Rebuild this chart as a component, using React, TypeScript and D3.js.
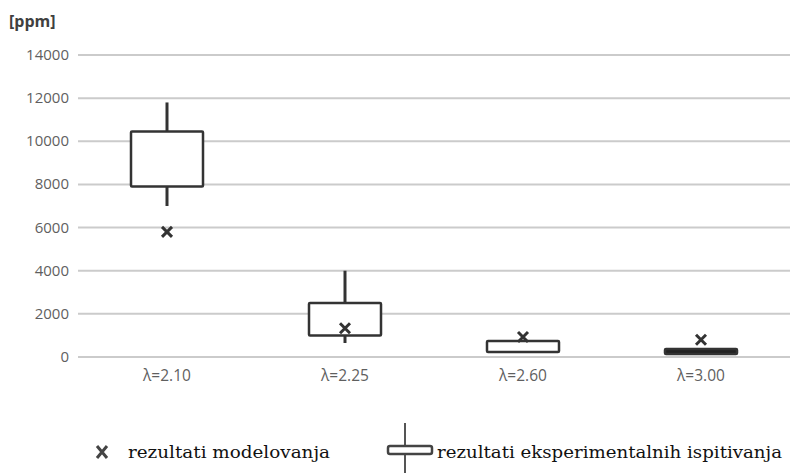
import React, { useEffect, useRef } from 'react'
import * as d3 from 'd3'

const categories = ['λ=2.10', 'λ=2.25', 'λ=2.60', 'λ=3.00']
const whiskerLow = [7000, 650, 200, 140]
const boxLow = [7900, 1000, 230, 140]
const boxHigh = [10450, 2500, 740, 370]
const whiskerHigh = [11800, 4000, 740, 370]
const modelValues = [5800, 1330, 930, 800]
const yTicks = [0, 2000, 4000, 6000, 8000, 10000, 12000, 14000]

export default function App() {
  const ref = useRef<SVGSVGElement | null>(null)

  useEffect(() => {
    const width = 790
    const svg = d3.select(ref.current!)
    svg.selectAll('*').remove()

    const x = d3.scaleBand<string>().domain(categories).range([78, 790])
    const y = d3.scaleLinear().domain([0, 14000]).range([357, 55])

    // grid
    svg.append('g').selectAll('line').data(yTicks).enter().append('line')
      .attr('x1', 78).attr('x2', width)
      .attr('y1', d => y(d)).attr('y2', d => y(d))
      .attr('stroke', '#cbcbcb').attr('stroke-width', 2)

    svg.append('g').selectAll('text').data(yTicks).enter().append('text')
      .attr('x', 69).attr('y', d => y(d) + 5)
      .attr('text-anchor', 'end')
      .attr('font-family', 'Open Sans, sans-serif').attr('font-size', 15)
      .attr('fill', '#5f5f5f')
      .text(d => String(d))

    svg.append('text').attr('x', 9).attr('y', 27)
      .attr('font-family', 'Open Sans, sans-serif').attr('font-size', 16).attr('font-weight', 700)
      .attr('fill', '#404040').text('[ppm]')

    svg.append('g').selectAll('text').data(categories).enter().append('text')
      .attr('x', d => (x(d) ?? 0) + x.bandwidth() / 2).attr('y', 381)
      .attr('text-anchor', 'middle')
      .attr('font-family', 'Open Sans, sans-serif').attr('font-size', 15.5)
      .attr('fill', '#5f5f5f')
      .text(d => d)

    const boxW = 72
    const g = svg.append('g')
    categories.forEach((c, i) => {
      const cx = (x(c) ?? 0) + x.bandwidth() / 2
      g.append('line').attr('x1', cx).attr('x2', cx)
        .attr('y1', y(whiskerHigh[i])).attr('y2', y(boxHigh[i]))
        .attr('stroke', '#333').attr('stroke-width', 3)
      g.append('line').attr('x1', cx).attr('x2', cx)
        .attr('y1', y(boxLow[i])).attr('y2', y(whiskerLow[i]))
        .attr('stroke', '#333').attr('stroke-width', 3)
      g.append('rect').attr('x', cx - boxW / 2).attr('width', boxW)
        .attr('y', y(boxHigh[i])).attr('height', Math.max(y(boxLow[i]) - y(boxHigh[i]), 0))
        .attr('fill', i === 3 ? '#222' : '#fff').attr('stroke', '#333').attr('stroke-width', 2.5)
        .attr('rx', 1)
      const my = y(modelValues[i])
      const s = 5
      g.append('path')
        .attr('d', `M${cx - s},${my - s}L${cx + s},${my + s}M${cx + s},${my - s}L${cx - s},${my + s}`)
        .attr('stroke', '#333').attr('stroke-width', 3)
    })

    // legend
    const leg = svg.append('g').attr('font-family', 'DejaVu Serif, serif').attr('font-size', 16).attr('fill', '#111')
    leg.append('path').attr('d', 'M97,446L107,458M107,446L97,458').attr('stroke', '#444').attr('stroke-width', 3)
    leg.append('text').attr('x', 128).attr('y', 458).attr('textLength', 202).attr('lengthAdjust', 'spacingAndGlyphs')
      .text('rezultati modelovanja')
    leg.append('line').attr('x1', 405).attr('x2', 405).attr('y1', 423).attr('y2', 473).attr('stroke', '#555').attr('stroke-width', 2)
    leg.append('rect').attr('x', 388).attr('y', 446).attr('width', 44).attr('height', 8).attr('rx', 2)
      .attr('fill', '#fff').attr('stroke', '#444').attr('stroke-width', 2.5)
    leg.append('text').attr('x', 437).attr('y', 458).attr('textLength', 345).attr('lengthAdjust', 'spacingAndGlyphs')
      .text('rezultati eksperimentalnih ispitivanja')
  }, [])

  return <svg ref={ref} width={790} height={473} style={{ position: 'absolute', left: 0, top: 0, background: '#fff' }} />
}
